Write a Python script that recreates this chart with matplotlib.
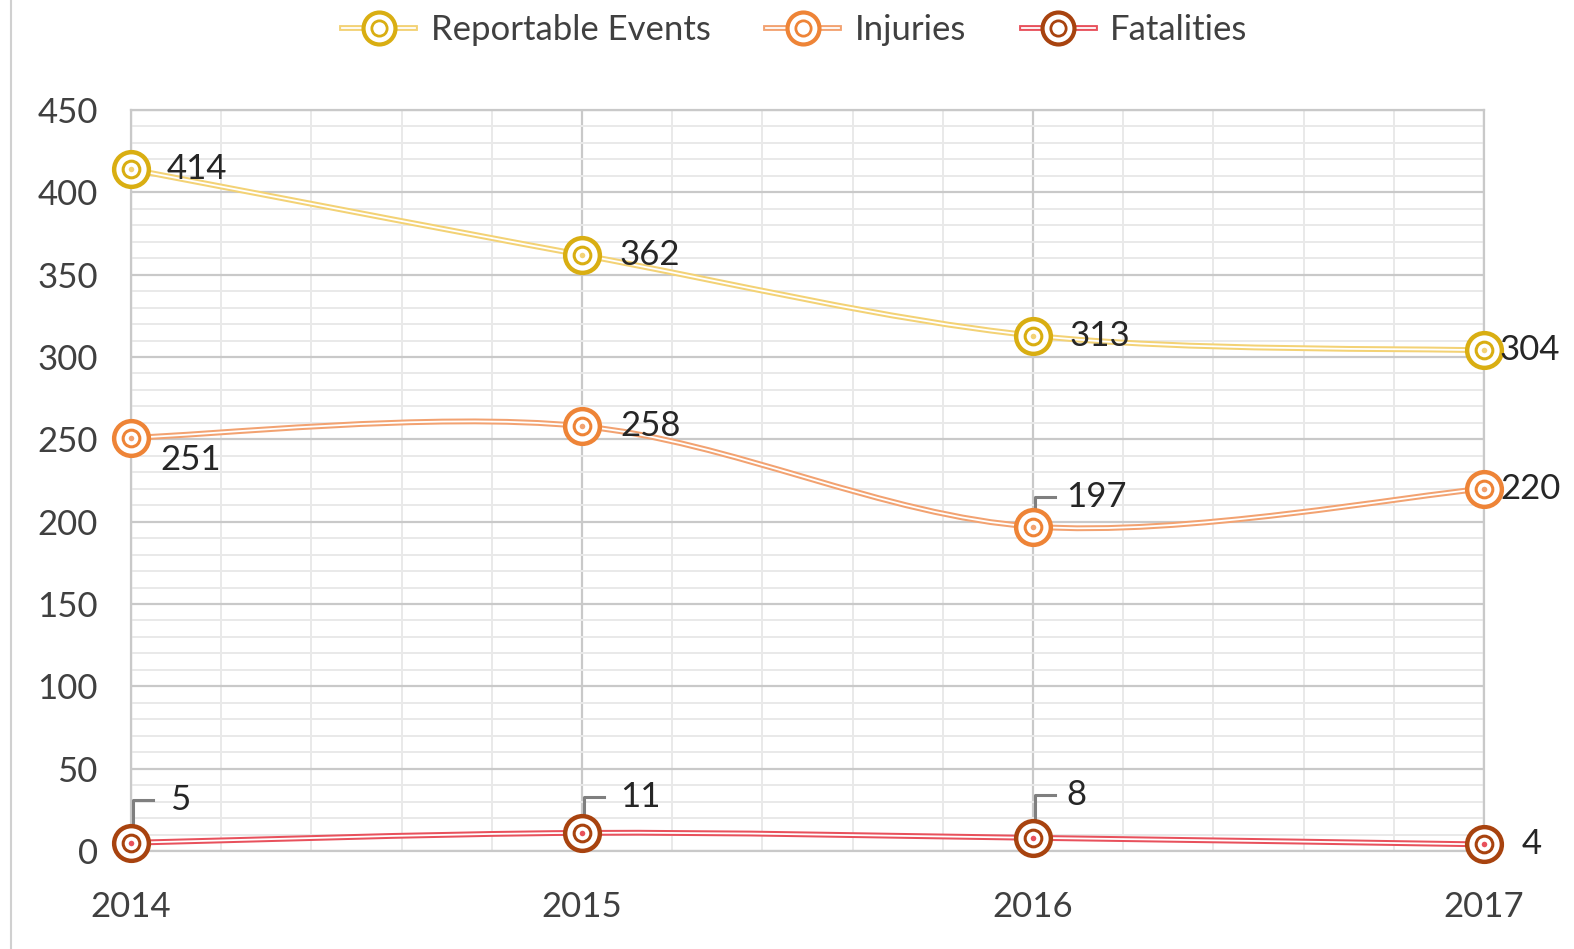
import matplotlib.pyplot as plt
import matplotlib.patches as mpatches
from matplotlib.path import Path
from matplotlib.lines import Line2D
import numpy as np

# chart data
years = [2014, 2015, 2016, 2017]
reportable = [414, 362, 313, 304]
injuries = [251, 258, 197, 220]
fatalities = [5, 11, 8, 4]
series_names = ["Reportable Events", "Injuries", "Fatalities"]

plt.rcParams['font.family'] = ['Lato', 'DejaVu Sans']

# (line colour, marker colour)
styles = [("#F3D275", "#D9AE12"), ("#F2A271", "#EE8437"), ("#E8515C", "#A8430F")]
# label offsets in pixels, leader line yes/no
offsets = [
    [(36, 0, False), (38, 0, False), (37, 0, False), (16, 0, False)],
    [(29, -22, False), (38, 0, False), (33, 30, True), (16, 0, False)],
    [(39, 43, True), (38, 36, True), (33, 43, True), (38, 0, False)],
]

fig = plt.figure(figsize=(15.74, 9.49), dpi=100)
ax = fig.add_axes([131 / 1574, 1 - 851 / 949, (1484 - 131) / 1574, (851 - 110) / 949])
ax.set_xlim(2014, 2017)
ax.set_ylim(0, 450)

# grid like the Excel chart
ax.set_yticks(np.arange(0, 451, 50))
ax.set_yticks(np.arange(0, 451, 10), minor=True)
ax.set_xticks(years)
ax.set_xticks(np.arange(2014, 2017.01, 0.2), minor=True)
ax.grid(which='minor', color='#E9E9E9', lw=1.4)
ax.grid(which='major', color='#C9C9C9', lw=1.6)
ax.set_axisbelow(True)
for s in ax.spines.values():
    s.set_color('#C9C9C9')
    s.set_linewidth(1.6)
ax.tick_params(which='both', length=0)
ax.tick_params(axis='y', pad=24, labelsize=25, labelcolor='#404040')
ax.tick_params(axis='x', pad=29, labelsize=25, labelcolor='#404040')


def smooth_path(xs, ys):
    # catmull-rom style bezier smoothing, similar to Excel "smoothed line"
    pts = np.column_stack([xs, ys]).astype(float)
    n = len(pts)
    verts = [pts[0]]
    codes = [Path.MOVETO]
    for i in range(n - 1):
        p0 = pts[max(i - 1, 0)]
        p1 = pts[i]
        p2 = pts[i + 1]
        p3 = pts[min(i + 2, n - 1)]
        c1 = p1 + (p2 - p0) / 6
        c2 = p2 - (p3 - p1) / 6
        verts += [c1, c2, p2]
        codes += [Path.CURVE4] * 3
    return Path(verts, codes)


handles = []
for vals, (lc, mc), offs in zip([reportable, injuries, fatalities], styles, offsets):
    path = smooth_path(years, vals)
    ax.add_patch(mpatches.PathPatch(path, fill=False, edgecolor=lc, lw=4.2, zorder=3))
    ax.add_patch(mpatches.PathPatch(path, fill=False, edgecolor='white', lw=1.3, zorder=3))
    ax.plot(years, vals, 'o', ms=25, mfc='white', mec=mc, mew=3.2, zorder=4, clip_on=False)
    ax.plot(years, vals, 'o', ms=12, mfc='none', mec=mc, mew=2.2, zorder=5, clip_on=False)
    ax.plot(years, vals, 'o', ms=4, mfc=lc, mec='none', zorder=5, clip_on=False)
    handles.append((
        Line2D([], [], color=lc, lw=4.2),
        Line2D([], [], color='white', lw=1.3),
        Line2D([], [], ls='none', marker='o', ms=23, mfc='white', mec=mc, mew=3.0),
        Line2D([], [], ls='none', marker='o', ms=11, mfc='none', mec=mc, mew=2.0),
    ))
    for x, v, (dx, dy, lead) in zip(years, vals, offs):
        ax.annotate(str(v), (x, v), xytext=(dx, dy), textcoords='offset pixels',
                    ha='left', va='center', fontsize=25, color='#262626', zorder=6,
                    annotation_clip=False)
        if lead:
            px, py = ax.transData.transform((x, v))
            ax.add_line(Line2D([px + 2, px + 2, px + 22], [py, py + dy, py + dy],
                               transform=None, color='#7F7F7F', lw=2.2, zorder=3.5))

fig.legend(handles, series_names, loc='center', bbox_to_anchor=(0.505, 0.968), ncols=3,
           frameon=False, fontsize=25, labelcolor='#404040', handlelength=2.1,
           columnspacing=1.6, handletextpad=0.45)

# chart border on the left
fig.add_artist(mpatches.Rectangle((11 / 1574, -0.01), 2, 1.02, transform=fig.transFigure,
                                  fill=False, edgecolor='#D0D0D0', lw=1.5))

fig.savefig('out.png', dpi=100)
